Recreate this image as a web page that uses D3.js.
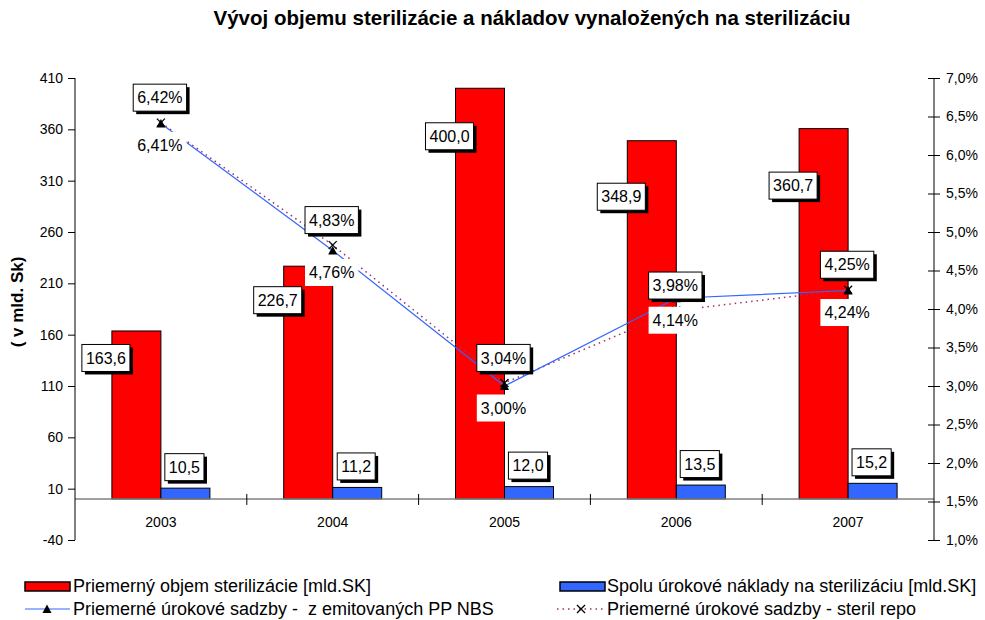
<!DOCTYPE html>
<html>
<head>
<meta charset="utf-8">
<script src="https://cdn.jsdelivr.net/npm/d3@7"></script>
<style>
  body { margin: 0; background: #fff; }
  text { font-family: "Liberation Sans", Arial, sans-serif; fill: #000; white-space: pre; }
</style>
</head>
<body>
<svg id="chart" width="985" height="620"></svg>
<script>
// data
var years = ["2003", "2004", "2005", "2006", "2007"];
var objem = [163.6, 226.7, 400.0, 348.9, 360.7];
var naklady = [10.5, 11.2, 12.0, 13.5, 15.2];
var sadzbyNBS = [6.41, 4.76, 3.00, 4.14, 4.24];
var sadzbyRepo = [6.42, 4.83, 3.04, 3.98, 4.25];
var leftTicks = [-40, 10, 60, 110, 160, 210, 260, 310, 360, 410];
var rightTicks = [1.0, 1.5, 2.0, 2.5, 3.0, 3.5, 4.0, 4.5, 5.0, 5.5, 6.0, 6.5, 7.0];

// label nudges (the original labels were dragged around by hand)
var objemLabelDy = [27, 34, 48, 56, 57];

var svg = d3.select("#chart");
var fmt = function(v, n) { return v.toFixed(n).replace(".", ","); };

var x = d3.scaleBand().domain(years).range([75, 934]);
var yL = d3.scaleLinear().domain([-40, 410]).range([540, 78]);
var yR = d3.scaleLinear().domain([1.0, 7.0]).range([540, 78]);

// title
svg.append("text")
    .attr("x", 532)
    .attr("y", 25)
    .attr("text-anchor", "middle")
    .style("font-size", "20.5px")
    .style("font-weight", "bold")
    .text("Vývoj objemu sterilizácie a nákladov vynaložených na sterilizáciu");

// y title
svg.append("text")
    .attr("transform", "translate(23,302) rotate(-90)")
    .attr("text-anchor", "middle")
    .style("font-size", "17px")
    .style("font-weight", "bold")
    .text("( v mld. Sk)");

// bars
var bw = 49;
svg.selectAll(".redbar")
    .data(objem)
  .enter().append("rect")
    .attr("class", "redbar")
    .attr("x", function(d, i) { return x(years[i]) + x.bandwidth() / 2 - bw; })
    .attr("y", function(d) { return yL(d); })
    .attr("width", bw)
    .attr("height", function(d) { return yL(0) - yL(d); })
    .style("fill", "#ff0000")
    .style("stroke", "#000")
    .style("stroke-width", 1);

svg.selectAll(".bluebar")
    .data(naklady)
  .enter().append("rect")
    .attr("class", "bluebar")
    .attr("x", function(d, i) { return x(years[i]) + x.bandwidth() / 2; })
    .attr("y", function(d) { return yL(d); })
    .attr("width", bw)
    .attr("height", function(d) { return yL(0) - yL(d); })
    .style("fill", "#3366ff")
    .style("stroke", "#000")
    .style("stroke-width", 1);

// category axis
svg.append("line")
    .attr("x1", 75).attr("x2", 934)
    .attr("y1", yL(0)).attr("y2", yL(0))
    .style("stroke", "#808080")
    .style("stroke-width", 1.5);

svg.selectAll(".ctick")
    .data(years.slice(1))
  .enter().append("line")
    .attr("x1", function(d) { return x(d); })
    .attr("x2", function(d) { return x(d); })
    .attr("y1", yL(0) - 5)
    .attr("y2", yL(0) + 6)
    .style("stroke", "#000");

svg.selectAll(".clabel")
    .data(years)
  .enter().append("text")
    .attr("x", function(d) { return x(d) + x.bandwidth() / 2; })
    .attr("y", 527)
    .attr("text-anchor", "middle")
    .style("font-size", "14px")
    .text(function(d) { return d; });

// left axis
var gl = svg.append("g").attr("transform", "translate(75,0)")
    .call(d3.axisLeft(yL).tickValues(leftTicks).tickSize(7).tickPadding(5)
        .tickFormat(function(d) { return String(d); }));
gl.select(".domain").attr("d", "M0," + yL(-40) + "V" + yL(410));
gl.selectAll("text").style("font-size", "14px").style("font-family", "Liberation Sans, Arial, sans-serif");

// right axis
var gr = svg.append("g").attr("transform", "translate(934,0)")
    .call(d3.axisRight(yR).tickValues(rightTicks).tickSize(6).tickPadding(6)
        .tickFormat(function(d) { return fmt(d, 1) + "%"; }));
gr.select(".domain").attr("d", "M0," + yR(1) + "V" + yR(7));
gr.selectAll(".tick line").attr("x1", -6);
gr.selectAll("text").style("font-size", "14px").style("font-family", "Liberation Sans, Arial, sans-serif");

// lines
var cx = function(i) { return x(years[i]) + x.bandwidth() / 2; };
var lineR = d3.line().x(function(d, i) { return cx(i); }).y(function(d) { return yR(d); });

svg.append("path")
    .datum(sadzbyRepo)
    .attr("d", lineR)
    .style("fill", "none")
    .style("stroke", "#993366")
    .style("stroke-width", 1.5)
    .style("stroke-dasharray", "1.5,4");

svg.append("path")
    .datum(sadzbyNBS)
    .attr("d", lineR)
    .style("fill", "none")
    .style("stroke", "#3366ff")
    .style("stroke-width", 1.2);

// markers
svg.selectAll(".tri")
    .data(sadzbyNBS)
  .enter().append("path")
    .attr("transform", function(d, i) { return "translate(" + cx(i) + "," + yR(d) + ")"; })
    .attr("d", "M0,-4.5L4.5,4L-4.5,4Z")
    .style("fill", "#000");

svg.selectAll(".xm")
    .data(sadzbyRepo)
  .enter().append("path")
    .attr("transform", function(d, i) { return "translate(" + cx(i) + "," + yR(d) + ")"; })
    .attr("d", "M-4,-4L4,4M-4,4L4,-4")
    .style("stroke", "#000")
    .style("stroke-width", 1.3);

// boxed labels with shadow
function boxLabel(px, py, txt) {
    var g = svg.append("g").attr("transform", "translate(" + px + "," + py + ")");
    var t = g.append("text")
        .attr("text-anchor", "middle")
        .attr("dy", "0.35em")
        .style("font-size", "16px")
        .text(txt);
    var w = t.node().getComputedTextLength() + 8, h = 27;
    g.insert("rect", "text")
        .attr("x", -w / 2 + 3).attr("y", -h / 2 + 3)
        .attr("width", w).attr("height", h)
        .style("fill", "#000");
    g.insert("rect", "text")
        .attr("x", -w / 2).attr("y", -h / 2)
        .attr("width", w).attr("height", h)
        .style("fill", "#fff")
        .style("stroke", "#000")
        .style("stroke-width", 1);
}

function plainLabel(px, py, txt) {
    var g = svg.append("g").attr("transform", "translate(" + px + "," + py + ")");
    var t = g.append("text")
        .attr("text-anchor", "middle")
        .attr("dy", "0.35em")
        .style("font-size", "16px")
        .text(txt);
    var w = t.node().getComputedTextLength() + 8, h = 27;
    g.insert("rect", "text")
        .attr("x", -w / 2).attr("y", -h / 2)
        .attr("width", w).attr("height", h)
        .style("fill", "#fff");
}

objem.forEach(function(d, i) {
    boxLabel(x(years[i]) + x.bandwidth() / 2 - bw - 6, yL(d) + objemLabelDy[i], fmt(d, 1));
});
naklady.forEach(function(d, i) {
    boxLabel(cx(i) + bw / 2 - 1, yL(d) - 21, fmt(d, 1));
});
sadzbyNBS.forEach(function(d, i) {
    plainLabel(cx(i) - 1, yR(d) + 22, fmt(d, 2) + "%");
});
sadzbyRepo.forEach(function(d, i) {
    boxLabel(cx(i) - 1, yR(d) - 25, fmt(d, 2) + "%");
});

// legend
var leg = svg.append("g");
function legText(px, py, txt) {
    leg.append("text").attr("x", px).attr("y", py).attr("dy", "0.35em")
        .style("font-size", "18px").text(txt);
}
leg.append("rect").attr("x", 25).attr("y", 582).attr("width", 45).attr("height", 9)
    .style("fill", "#ff0000").style("stroke", "#000").style("stroke-width", 1.5);
legText(73, 586, "Priemerný objem sterilizácie [mld.SK]");
leg.append("rect").attr("x", 560).attr("y", 582).attr("width", 45).attr("height", 9)
    .style("fill", "#3366ff").style("stroke", "#000").style("stroke-width", 1.5);
legText(607, 586, "Spolu úrokové náklady na sterilizáciu [mld.SK]");

leg.append("line").attr("x1", 25).attr("x2", 70).attr("y1", 609).attr("y2", 609)
    .style("stroke", "#3366ff").style("stroke-width", 1.2);
leg.append("path").attr("transform", "translate(47,609)")
    .attr("d", "M0,-4.5L4.5,4L-4.5,4Z").style("fill", "#000");
legText(73, 609, "Priemerné úrokové sadzby -  z emitovaných PP NBS");

leg.append("line").attr("x1", 557).attr("x2", 605).attr("y1", 609).attr("y2", 609)
    .style("stroke", "#993366").style("stroke-width", 1.5).style("stroke-dasharray", "1.5,4");
leg.append("path").attr("transform", "translate(581,609)")
    .attr("d", "M-4,-4L4,4M-4,4L4,-4").style("stroke", "#000").style("stroke-width", 1.3);
legText(607, 609, "Priemerné úrokové sadzby - steril repo");
</script>
</body>
</html>
